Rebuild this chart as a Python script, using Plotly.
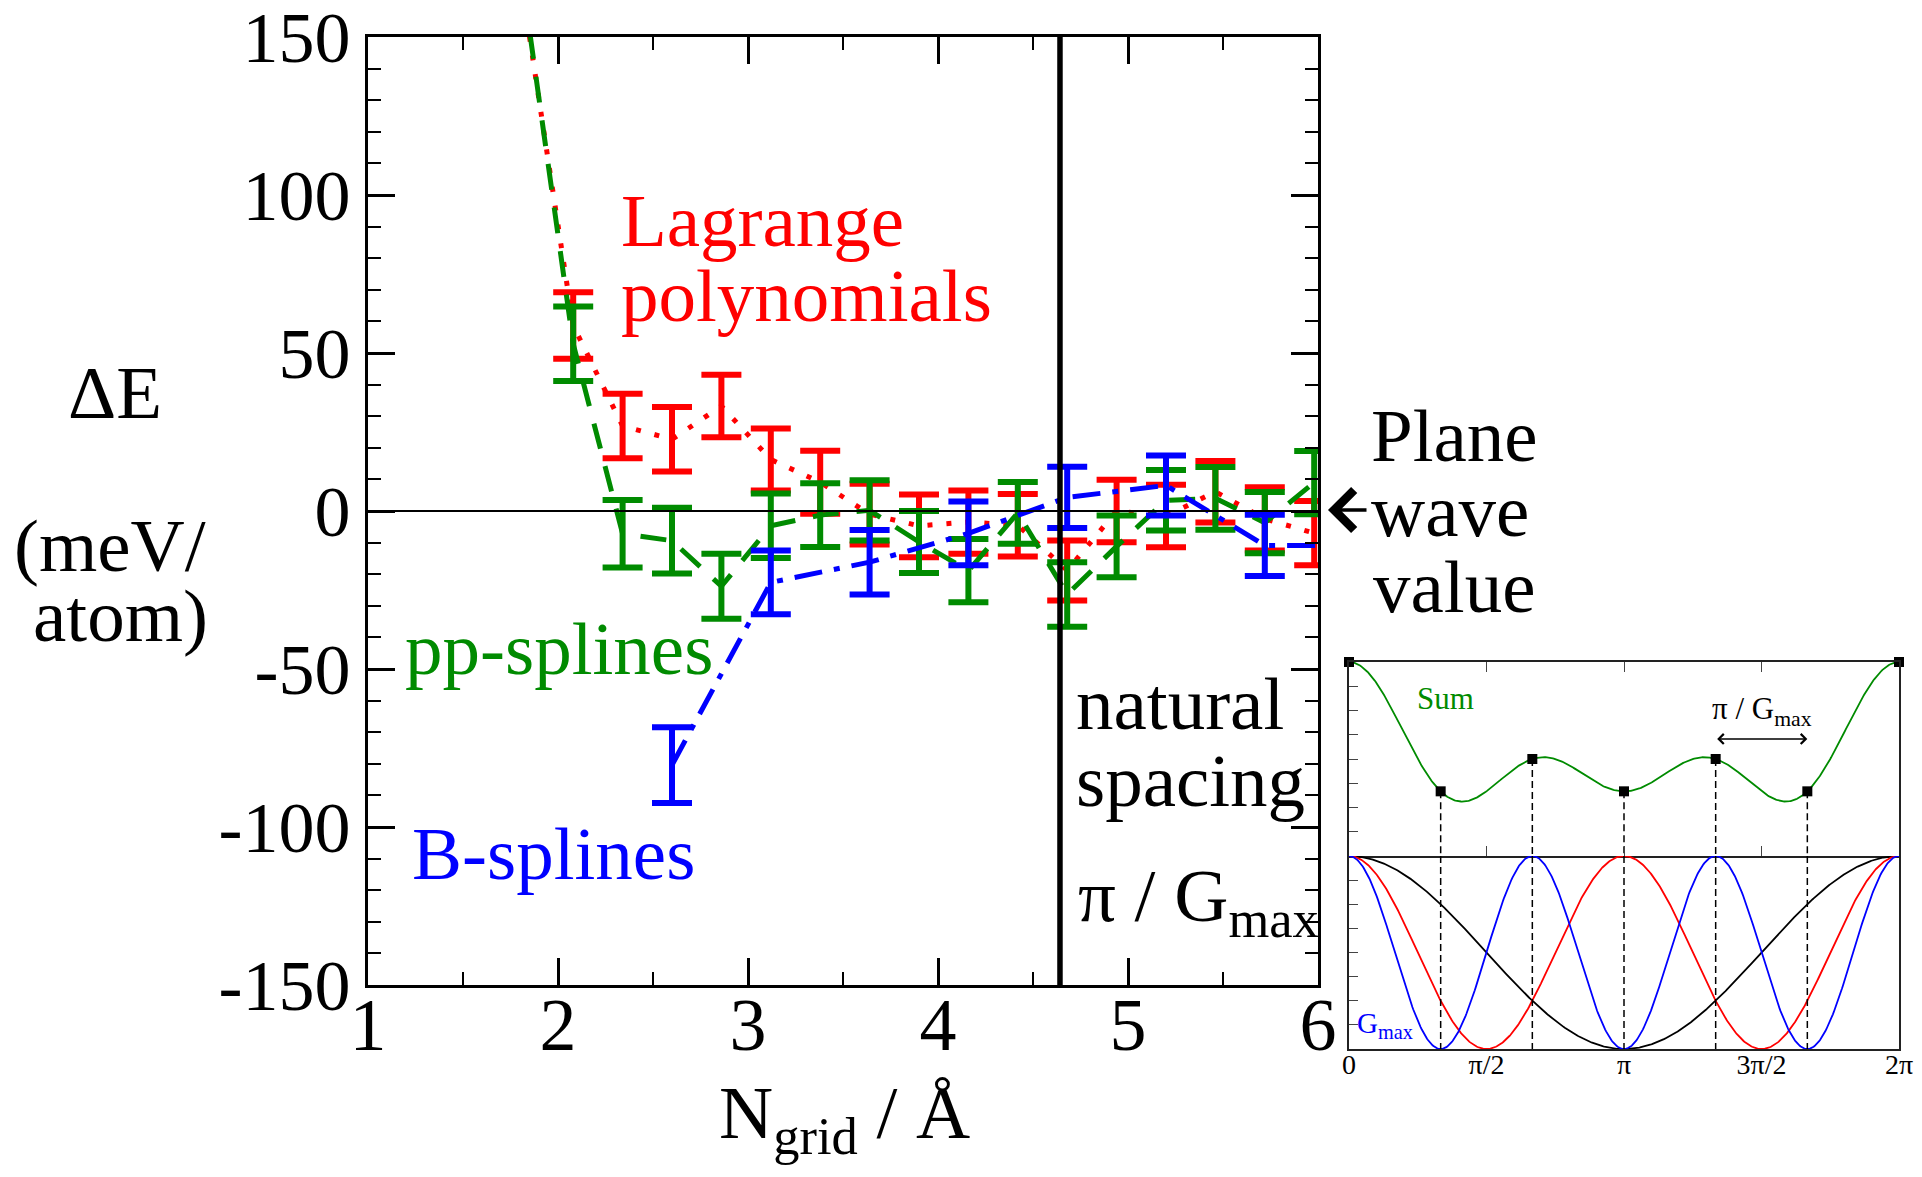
import numpy as np
import plotly.graph_objects as go

W, H = 1922, 1177
FONT = "Liberation Serif"

# ---------------- main panel data ----------------
grid_spacing = [1.82, 2.08, 2.34, 2.60, 2.86, 3.12, 3.38, 3.64, 3.90, 4.16,
                4.42, 4.68, 4.94, 5.20, 5.46, 5.72, 5.98]
lagrange_dE = [162, 58.7, 26.9, 22.7, 33.2, 16.3, 9.1, -1.0, -4.7, -3.5,
               -4.5, -18.8, 0.0, -1.6, 6.1, -2.5, -7.0]
lagrange_err = [11, 10.5, 10.2, 10.2, 9.9, 9.8, 10.0, 9.6, 9.9, 10.0,
                9.9, 9.5, 9.9, 9.9, 9.7, 10.0, 10.2]
pp_dE = [165, 52.9, -7.2, -9.4, -23.8, -4.7, -1.3, 0.2, -9.8, -18.9,
         -0.6, -26.4, -11.2, 3.4, 4.0, -3.7, 9.0]
pp_err = [12, 11.8, 10.7, 10.4, 10.3, 10.2, 10.1, 9.5, 9.8, 10.0,
          9.8, 10.2, 9.8, 9.6, 9.9, 9.7, 10.0]
bspline_grid = [2.60, 3.12, 3.64, 4.16, 4.68, 5.20, 5.72, 6.24]
bspline_dE = [-80.4, -22.6, -16.2, -7.1, 4.3, 8.1, -10.9, -11.0]
bspline_err = [12.0, 10.1, 10.2, 10.1, 9.7, 9.5, 9.7, 10.0]

natural_spacing = 4.642      # pi / G_max
plane_wave_value = 0.0
x_range = [1, 6]
y_range = [-150, 150]
x_ticks = [1, 2, 3, 4, 5, 6]
x_tick_labels = ["1", "2", "3", "4", "5", "6"]
y_ticks = [-150, -100, -50, 0, 50, 100, 150]
y_tick_labels = ["-150", "-100", "-50", "0", "50", "100", "150"]

# ---------------- inset data ----------------
inset_harmonics = [1, 2, 3]
inset_colors = ["black", "red", "blue"]
inset_node_index = [0, 1, 2, 3, 4, 5, 6]          # nodes at k*pi/3
inset_tick_vals = [0, np.pi / 2, np.pi, 3 * np.pi / 2, 2 * np.pi]
inset_tick_labels = ["0", "π/2", "π", "3π/2", "2π"]

RED = "rgb(255,0,0)"
GREEN = "rgb(0,139,0)"
BLUE = "rgb(0,0,255)"


def px_x(p):
    return p / W


def px_y(p):
    return 1 - p / H


fig = go.Figure()

# main curves
fig.add_trace(go.Scatter(
    x=grid_spacing, y=lagrange_dE, mode="lines",
    line=dict(color=RED, width=5, dash="5px,14px"),
    error_y=dict(type="data", array=lagrange_err, visible=True,
                 color=RED, thickness=6, width=20),
    xaxis="x", yaxis="y", showlegend=False))
fig.add_trace(go.Scatter(
    x=grid_spacing, y=pp_dE, mode="lines",
    line=dict(color=GREEN, width=5, dash="26px,18px"),
    error_y=dict(type="data", array=pp_err, visible=True,
                 color=GREEN, thickness=6, width=20),
    xaxis="x", yaxis="y", showlegend=False))
fig.add_trace(go.Scatter(
    x=bspline_grid, y=bspline_dE, mode="lines",
    line=dict(color=BLUE, width=5, dash="28px,12px,6px,12px"),
    error_y=dict(type="data", array=bspline_err, visible=True,
                 color=BLUE, thickness=6, width=20),
    xaxis="x", yaxis="y", showlegend=False))

# plane wave reference and natural spacing line
fig.add_trace(go.Scatter(
    x=x_range, y=[plane_wave_value, plane_wave_value], mode="lines",
    line=dict(color="black", width=2), xaxis="x", yaxis="y", showlegend=False))
fig.add_trace(go.Scatter(
    x=[natural_spacing, natural_spacing], y=y_range, mode="lines",
    line=dict(color="black", width=5.5), xaxis="x", yaxis="y", showlegend=False))

# ---------------- inset curves ----------------
t = np.linspace(0, 2 * np.pi, 600)
total = np.ones_like(t)
for n, c in zip(inset_harmonics, inset_colors):
    total = total + np.cos(n * t)
    fig.add_trace(go.Scatter(x=t, y=np.cos(n * t), mode="lines",
                             line=dict(color=c, width=1.8),
                             xaxis="x3", yaxis="y3", showlegend=False))
fig.add_trace(go.Scatter(x=t, y=total, mode="lines",
                         line=dict(color=GREEN, width=1.8),
                         xaxis="x2", yaxis="y2", showlegend=False))

nodes = np.array(inset_node_index) * np.pi / 3
node_sum = 1 + sum(np.cos(n * nodes) for n in inset_harmonics)

dx2, dy2, dx3, dy3 = [], [], [], []
for xn, sn in zip(nodes[1:-1], node_sum[1:-1]):
    dx2 += [xn, xn, None]
    dy2 += [sn, -2, None]
    dx3 += [xn, xn, None]
    dy3 += [1, -1, None]
fig.add_trace(go.Scatter(x=dx2, y=dy2, mode="lines",
                         line=dict(color="black", width=1.5, dash="7px,4px"),
                         xaxis="x2", yaxis="y2", showlegend=False))
fig.add_trace(go.Scatter(x=dx3, y=dy3, mode="lines",
                         line=dict(color="black", width=1.5, dash="7px,4px"),
                         xaxis="x3", yaxis="y3", showlegend=False))
fig.add_trace(go.Scatter(x=nodes, y=node_sum, mode="markers",
                         marker=dict(symbol="square", size=10, color="black"),
                         cliponaxis=False,
                         xaxis="x2", yaxis="y2", showlegend=False))

# ---------------- axes ----------------
main_x_dom = [px_x(368), px_x(1318)]
main_y_dom = [px_y(985), px_y(37)]
inset_x_dom = [px_x(1349), px_x(1899)]
top_y_dom = [px_y(856), px_y(662)]
bot_y_dom = [px_y(1049), px_y(856)]

axis_common = dict(showgrid=False, zeroline=False, showline=True,
                   linecolor="black", automargin=False,
                   ticklabeloverflow="allow")

fig.update_layout(
    width=W, height=H,
    margin=dict(l=0, r=0, t=0, b=0, autoexpand=False),
    paper_bgcolor="white", plot_bgcolor="white",
    showlegend=False,
    xaxis=dict(axis_common, domain=main_x_dom, range=x_range, anchor="y",
               linewidth=3, mirror="allticks", ticks="inside", ticklen=27,
               tickwidth=2.5, tickcolor="black",
               tickmode="array", tickvals=x_ticks, ticktext=x_tick_labels,
               ticklabelstandoff=-27,
               tickfont=dict(family=FONT, size=74, color="black"),
               minor=dict(ticks="inside", ticklen=13, tickwidth=2,
                          tickcolor="black", tickmode="linear",
                          tick0=1, dtick=0.5)),
    yaxis=dict(axis_common, domain=main_y_dom, range=y_range, anchor="x",
               linewidth=3, mirror="allticks", ticks="inside", ticklen=27,
               tickwidth=2.5, tickcolor="black",
               tickmode="array", tickvals=y_ticks, ticktext=y_tick_labels,
               tickfont=dict(family=FONT, size=72, color="black"),
               minor=dict(ticks="inside", ticklen=13, tickwidth=2,
                          tickcolor="black", tickmode="linear",
                          tick0=-150, dtick=10)),
    xaxis2=dict(axis_common, domain=inset_x_dom, range=[0, 2 * np.pi],
                anchor="y2", linewidth=1.5, linecolor="#222",
                mirror="allticks", ticks="inside", ticklen=10, tickwidth=1,
                tickcolor="#444",
                tickmode="array", tickvals=inset_tick_vals[1:-1],
                showticklabels=False),
    yaxis2=dict(axis_common, domain=top_y_dom, range=[-2, 4], anchor="x2",
                linewidth=1.5, linecolor="#222", mirror=True,
                ticks="inside", ticklen=9, tickwidth=1, tickcolor="#444",
                tickmode="linear", tick0=-2, dtick=0.75,
                showticklabels=False),
    xaxis3=dict(axis_common, domain=inset_x_dom, range=[0, 2 * np.pi],
                anchor="y3", linewidth=1.5, linecolor="#222", mirror=False,
                ticks="", tickmode="array", tickvals=inset_tick_vals,
                ticktext=inset_tick_labels, ticklabelstandoff=-10,
                tickfont=dict(family=FONT, size=28, color="black")),
    yaxis3=dict(axis_common, domain=bot_y_dom, range=[-1, 1], anchor="x3",
                linewidth=1.5, linecolor="#222", mirror=True,
                ticks="inside", ticklen=9, tickwidth=1, tickcolor="#444",
                tickmode="linear", tick0=-1, dtick=0.25,
                showticklabels=False),
)


# ---------------- text ----------------
def ann(text, x_px, base_px, size, color="black", xanchor="left"):
    return dict(text=text, xref="paper", yref="paper",
                x=px_x(x_px), y=px_y(base_px - 0.891 * size),
                xanchor=xanchor, yanchor="top", showarrow=False,
                borderpad=0,
                font=dict(family=FONT, size=size, color=color))


annotations = [
    ann("Lagrange", 620, 245, 75, RED),
    ann("polynomials", 620, 320, 75, RED),
    ann("pp-splines", 404, 673, 75, GREEN),
    ann("B-splines", 411, 878, 75, BLUE),
    ann("natural", 1075, 728, 75),
    ann("spacing", 1075, 805, 75),
    ann("π / G<sub>max</sub>", 1077, 920, 75),
    ann("Plane", 1370, 460, 75),
    ann("wave", 1370, 535, 75),
    ann("value", 1372, 611, 75),
    ann("ΔE", 67, 417, 75),
    ann("(meV/", 13, 570, 75),
    ann("atom)", 32, 640, 75),
    ann("N<sub>grid</sub> / Å", 718, 1137, 75),
    ann("Sum", 1416, 708, 31, GREEN),
    ann("π / G<sub>max</sub>", 1711, 718, 31),
    ann("G<sub>max</sub>", 1356, 1032, 29, BLUE),
    # plane-wave arrow
    dict(text="", xref="paper", yref="paper", x=px_x(1328), y=px_y(510),
         ax=40, ay=0, showarrow=True, arrowhead=4, arrowwidth=3.5,
         arrowsize=2.2, arrowcolor="black"),
    # pi / G_max double arrow in inset
    dict(text="", xref="x2", yref="y2", x=5 * np.pi / 3, y=1.62,
         axref="x2", ayref="y2", ax=4 * np.pi / 3, ay=1.62,
         showarrow=True, arrowside="end+start", arrowhead=4,
         startarrowhead=4, arrowwidth=1.5, arrowsize=1.3,
         startarrowsize=1.3, arrowcolor="black"),
]
fig.update_layout(annotations=annotations)

fig.write_html("out.html")
